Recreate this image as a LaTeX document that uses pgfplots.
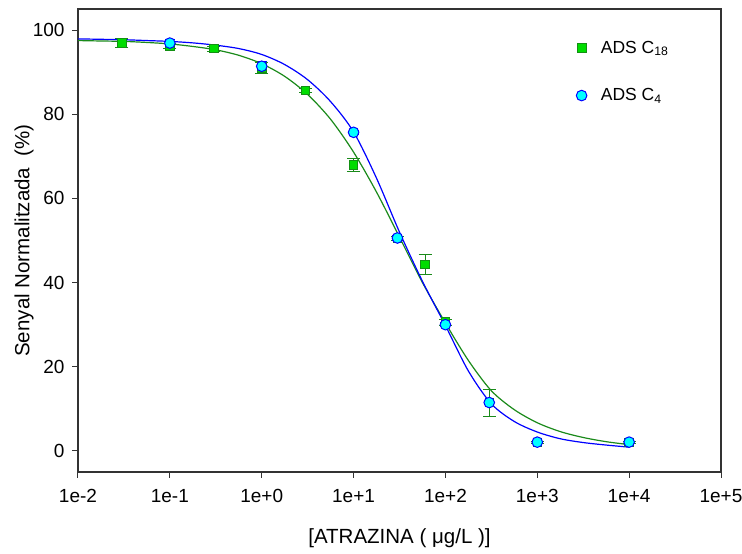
\documentclass[border=0pt]{standalone}
\usepackage{fontspec}
\setmainfont{Liberation Sans}
\usepackage{pgfplots}
\pgfplotsset{compat=1.18}
\definecolor{gline}{HTML}{1A8A1A}
\definecolor{gfill}{HTML}{00DD00}
\definecolor{gedge}{HTML}{139013}
\definecolor{cfill}{HTML}{00FFFF}
\definecolor{bline}{HTML}{0000FF}

\pgfplotstableread{
x y e
0.03 96.9 1.0
0.1 96.3 0.6
0.3 95.6 0.6
1 91.0 1.3
3 85.7 0.5
10 67.9 1.6
30 50.5 0.5
60 44.3 2.4
100 30.6 0.7
300 11.5 3.2
1000 2.0 0.3
10000 2.0 0.3
}\greendata

\pgfplotstableread{
x y e
0.1 96.9 0.8
1 91.4 1.2
10 75.7 0.5
30 50.6 0.5
100 30.0 0.5
300 11.5 0.5
1000 2.1 0.3
10000 2.1 0.3
}\bluedata

\pgfplotstableread{
x y
0.01 97.5
0.01778 97.4
0.03162 97.3
0.05623 97.05
0.1 96.7
0.1778 96.1
0.3162 95.3
0.5623 94.0
1 92.0
1.778 89.0
3.162 84.7
5.623 78.8
10 71.0
17.78 61.5
31.62 50.8
56.23 40.0
100 30.4
177.8 21.5
316.2 14.3
562.3 9.8
1000 6.7
1778 4.6
3162 3.2
5623 2.2
10000 1.5
}\greencurve

\pgfplotstableread{
x y
0.01 97.9
0.01778 97.8
0.03162 97.7
0.05623 97.5
0.1 97.3
0.1778 96.95
0.3162 96.4
0.5623 95.6
1 94.2
1.778 91.8
3.162 88.2
5.623 83.0
10 75.8
17.78 64.8
31.62 52.0
56.23 40.3
100 29.8
177.8 19.0
316.2 11.2
562.3 7.0
1000 4.5
1778 2.9
3162 2.0
5623 1.4
10000 0.9
}\bluecurve

\begin{document}
\begin{tikzpicture}
\useasboundingbox (-78pt,-82pt) rectangle (664pt,472pt);
\begin{axis}[
  at={(0,0)}, anchor=south west,
  scale only axis, width=643pt, height=463pt,
  xmode=log, xmin=0.01, xmax=100000, ymin=-5, ymax=105,
  xtick={0.01,0.1,1,10,100,1000,10000,100000},
  xticklabels={1e-2,1e-1,1e+0,1e+1,1e+2,1e+3,1e+4,1e+5},
  ytick={0,20,40,60,80,100},
  xminorticks=false, yminorticks=false,
  tick align=outside, xtick pos=lower, ytick pos=left,
  major tick length=6pt,
  tick style={line width=1pt, color=black!80},
  axis line style={line width=1.1pt, color=black!80},
  /pgf/number format/assume math mode=true,
  ticklabel style={font=\fontsize{19}{22}\selectfont},
  yticklabel style={xshift=-4pt},
  xticklabel style={yshift=-8pt},
  label style={font=\fontsize{20.5}{24}\selectfont},
  xlabel={[ATRAZINA ( μg/L )]},
  ylabel={Senyal Normalitzada\ \ (\%)},
  xlabel style={at={(axis description cs:0.5,-0.142)}, anchor=center},
  ylabel style={at={(axis description cs:-0.084,0.5)}, anchor=center, rotate=0},
  legend style={draw=none, fill=none, at={(axis description cs:0.770,0.94)}, anchor=north west,
    font=\fontsize{17.5}{20}\selectfont, row sep=30pt},
  legend cell align=left,
]
\addplot[only marks, mark=square*, mark size=4.3pt, color=gedge,
  mark options={fill=gfill, draw=gedge, line width=0.8pt},
  error bars/.cd, y dir=both, y explicit,
  error bar style={gline, line width=1pt},
  error mark options={rotate=90, mark size=6.5pt, gline, line width=1pt}]
  table[x=x, y=y, y error=e] {\greendata};
\addlegendentry{\hspace*{12pt}ADS C\textsubscript{18}}
\addplot[only marks, mark=*, mark size=5.3pt, color=bline,
  mark options={fill=cfill, draw=bline, line width=1pt},
  error bars/.cd, y dir=both, y explicit,
  error bar style={bline, line width=1pt},
  error mark options={rotate=90, mark size=5pt, bline, line width=1pt}]
  table[x=x, y=y, y error=e] {\bluedata};
\addlegendentry{\hspace*{12pt}ADS C\textsubscript{4}}
\addplot[forget plot, smooth, gline, line width=1.2pt] table[x=x, y=y] {\greencurve};
\addplot[forget plot, smooth, bline, line width=1.2pt] table[x=x, y=y] {\bluecurve};
\end{axis}
\end{tikzpicture}
\end{document}
